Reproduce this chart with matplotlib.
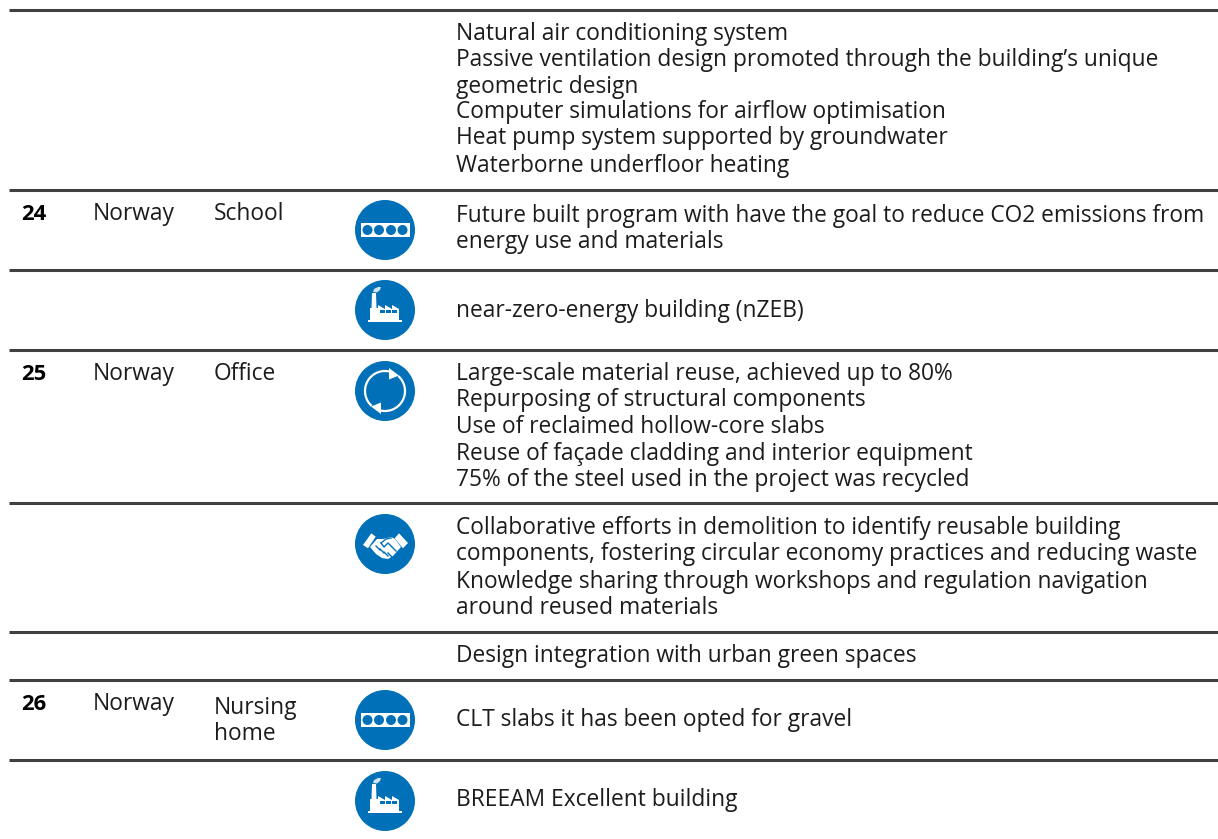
import numpy as np
import matplotlib
matplotlib.use("Agg")
import matplotlib.pyplot as plt
from matplotlib.patches import Circle, Rectangle, Polygon

plt.rcParams['font.family'] = ['Open Sans', 'DejaVu Sans']

BLUE = '#0070b8'
LINE = '#404040'
INK = '#1c1c1c'
FS = 16.4

# table content
rule_y = [10, 190, 270, 350, 503, 632, 680, 760]
numbers = ['24', '25', '26']
number_y = [220, 380, 710]
countries = ['Norway', 'Norway', 'Norway']
country_y = [220, 380, 710]
types = ['School', 'Office', 'Nursing', 'home']
type_y = [220, 380, 714, 740]
details = [
    'Natural air conditioning system',
    'Passive ventilation design promoted through the building\u2019s unique',
    'geometric design',
    'Computer simulations for airflow optimisation',
    'Heat pump system supported by groundwater',
    'Waterborne underfloor heating',
    'Future built program with have the goal to reduce CO2 emissions from',
    'energy use and materials',
    'near-zero-energy building (nZEB)',
    'Large-scale material reuse, achieved up to 80%',
    'Repurposing of structural components',
    'Use of reclaimed hollow-core slabs',
    'Reuse of fa\u00e7ade cladding and interior equipment',
    '75% of the steel used in the project was recycled',
    'Collaborative efforts in demolition to identify reusable building',
    'components, fostering circular economy practices and reducing waste',
    'Knowledge sharing through workshops and regulation navigation',
    'around reused materials',
    'Design integration with urban green spaces',
    'CLT slabs it has been opted for gravel',
    'BREEAM Excellent building',
]
detail_y = [40, 66, 93, 118, 144, 172, 222, 248, 317, 380, 406, 433, 460, 486,
            534, 560, 588, 614, 662, 726, 806]
icons = ['slab', 'factory', 'cycle', 'hands', 'slab', 'factory']
icon_y = [230, 310, 391, 544, 720, 801]

fig = plt.figure(figsize=(12.18, 8.39), dpi=100)
ax = fig.add_axes([0, 0, 1, 1])
ax.set_xlim(0, 1218)
ax.set_ylim(839, 0)
ax.axis('off')


def shape(cx, cy, pts, color='white', z=3):
    pts = np.array(pts, dtype=float)
    ax.add_patch(Polygon(pts + [cx, cy], closed=True, fc=color, ec='none', zorder=z))


def draw_slab(cx, cy):
    ax.add_patch(Rectangle((cx - 24.5, cy - 7), 49, 14, fc='white', ec='none', zorder=3))
    for dx in [-17.5, -6, 6, 17.5]:
        ax.add_patch(Circle((cx + dx, cy), 5, fc=BLUE, ec='none', zorder=4))


def draw_factory(cx, cy):
    shape(cx, cy, [(-13, -17), (-9, -17), (-8.5, -2), (-7, -2), (-7, -5), (0, -1), (0, -5), (7, -1),
                   (7, -5), (14, -1), (14, 10), (-15, 10), (-15, -2), (-13.5, -2)])
    ax.add_patch(Rectangle((cx - 17, cy + 10), 34, 2.2, fc='white', ec='none', zorder=3))
    shape(cx, cy, [(-12, -18), (-11, -21), (-7, -23), (-4, -23), (-5, -20), (-8, -17.5)], color='#cfe3f2')
    for dx in [-5.5, 1.3, 7.3]:
        ax.add_patch(Rectangle((cx + dx, cy), 5, 3, fc=BLUE, ec='none', zorder=4))


def draw_cycle(cx, cy):
    for a, b in [(135, 285), (-45, 105)]:
        t = np.radians(np.linspace(a, b, 60))
        ax.plot(cx + 20 * np.cos(t), cy + 20 * np.sin(t), color='white', lw=1.6, zorder=3)
    shape(cx, cy, [(4, -23), (14, -15.5), (4, -11.5)])
    shape(cx, cy, [(-4, 23), (-14, 15.5), (-4, 11.5)])


def draw_hands(cx, cy):
    shape(cx, cy, [(-22, 1), (-13.7, -10.7), (-9.3, -7.3), (-17, 4.3)])
    shape(cx, cy, [(23, -1), (14, -10.7), (9.7, -5.7), (18, 4.3)])
    shape(cx, cy, [(-15, 3), (-8, -5), (-2, -5), (6, -7), (10, -5), (16, 3), (8, 12),
                   (3, 15), (-3, 14), (-9, 10)])
    ax.plot([cx - 4, cx - 1, cx + 3, cx + 11], [cy - 1, cy + 3, cy - 1, cy + 7],
            color=BLUE, lw=1.0, zorder=4)
    ax.plot([cx - 4, cx + 1, cx + 6], [cy - 1, cy - 5, cy - 6], color=BLUE, lw=1.0, zorder=4)
    for dx, dy in [(-9, 5), (-5, 8), (-1, 11), (3, 12)]:
        ax.plot([cx + dx, cx + dx + 4], [cy + dy - 3, cy + dy + 1], color=BLUE, lw=1.0, zorder=4)


icon_draw = {'slab': draw_slab, 'factory': draw_factory, 'cycle': draw_cycle, 'hands': draw_hands}

# rules
for y in rule_y:
    ax.plot([9, 1218], [y, y], color=LINE, lw=2.2, solid_capstyle='butt')

# text columns
for s, y in zip(numbers, number_y):
    ax.text(21, y, s, fontsize=FS - 0.6, fontweight='bold', color='black', va='baseline')
for s, y in zip(countries, country_y):
    ax.text(93, y, s, fontsize=FS, color=INK, va='baseline')
for s, y in zip(types, type_y):
    ax.text(214, y, s, fontsize=FS, color=INK, va='baseline')
for s, y in zip(details, detail_y):
    ax.text(456, y, s, fontsize=FS, color=INK, va='baseline')

# icons
for name, y in zip(icons, icon_y):
    ax.add_patch(Circle((385, y), 30, fc=BLUE, ec='none', zorder=2))
    icon_draw[name](385, y)

fig.savefig('out.png', dpi=100)
